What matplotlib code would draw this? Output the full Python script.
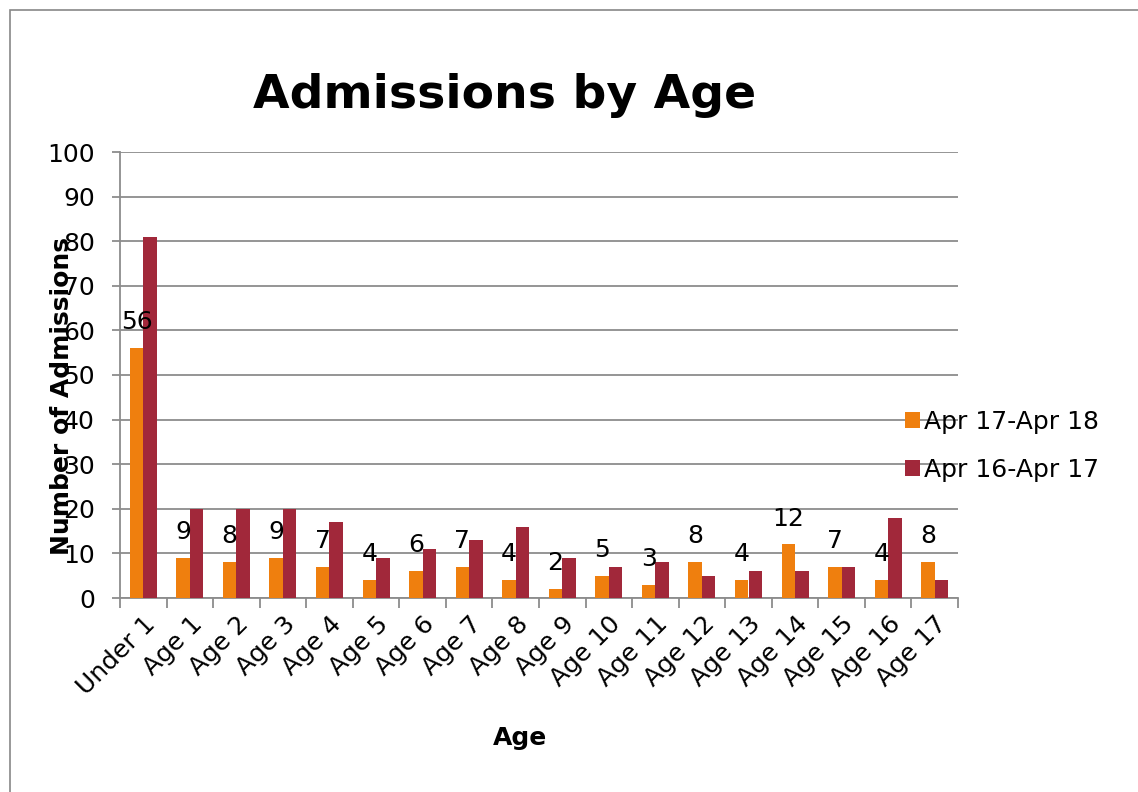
import matplotlib
matplotlib.use("Agg")
import matplotlib.pyplot as plt
import numpy as np
from matplotlib.patches import Rectangle, Patch

categories = ["Under 1", "Age 1", "Age 2", "Age 3", "Age 4", "Age 5", "Age 6", "Age 7",
              "Age 8", "Age 9", "Age 10", "Age 11", "Age 12", "Age 13", "Age 14",
              "Age 15", "Age 16", "Age 17"]
series_names = ["Apr 17-Apr 18", "Apr 16-Apr 17"]
apr17_18 = [56, 9, 8, 9, 7, 4, 6, 7, 4, 2, 5, 3, 8, 4, 12, 7, 4, 8]
apr16_17 = [81, 20, 20, 20, 17, 9, 11, 13, 16, 9, 7, 8, 5, 6, 6, 7, 18, 4]
yticks = list(range(0, 101, 10))

c_orange = "#EF7F0E"
c_red = "#A1283A"
grid_c = "#8C8C8C"

W, H = 1138, 792
fig = plt.figure(figsize=(W / 100, H / 100), dpi=100)
ax = fig.add_axes([120 / W, 1 - 598 / H, (958 - 120) / W, (598 - 152) / H])

x = np.arange(len(categories))
bw = 0.29
ax.bar(x - bw / 2, apr17_18, bw, color=c_orange, zorder=3, label=series_names[0])
ax.bar(x + bw / 2, apr16_17, bw, color=c_red, zorder=3, label=series_names[1])

for xi, v in zip(x, apr17_18):
    ax.annotate(str(v), (xi - bw / 2, v), xytext=(0, 10), textcoords="offset points",
                ha="center", va="bottom", fontsize=18, color="black", zorder=5)

ax.set_xlim(-0.5, len(categories) - 0.5)
ax.set_ylim(0, 100)
ax.set_yticks(yticks)
ax.set_yticklabels([str(t) for t in yticks], fontsize=18)
ax.yaxis.grid(True, color=grid_c, lw=1.3, zorder=0)
ax.set_axisbelow(True)

ax.set_xticks(x)
ax.set_xticklabels(categories, rotation=45, ha="right", rotation_mode="anchor", fontsize=18)
ax.set_xticks(np.arange(len(categories) + 1) - 0.5, minor=True)
ax.tick_params(axis="x", which="major", length=0, pad=10)
ax.tick_params(axis="x", which="minor", length=7, color=grid_c, width=1.3)
ax.tick_params(axis="y", length=6, color=grid_c, width=1.3, pad=12)

for s in ["top", "right"]:
    ax.spines[s].set_visible(False)
for s in ["left", "bottom"]:
    ax.spines[s].set_color(grid_c)
    ax.spines[s].set_linewidth(1.3)

fig.text(505 / W, 1 - 96 / H, "Admissions by Age", fontsize=34, fontweight="bold",
         ha="center", va="center")
fig.text(62 / W, 1 - 396 / H, "Number of Admissions", fontsize=18, fontweight="bold",
         rotation=90, ha="center", va="center")
fig.text(520 / W, 1 - 738 / H, "Age", fontsize=18, fontweight="bold",
         ha="center", va="center")

handles = [Patch(facecolor=c_orange, edgecolor="none"), Patch(facecolor=c_red, edgecolor="none")]
fig.legend(handles, series_names, loc="center left",
           bbox_to_anchor=(882 / W, 1 - 446 / H), frameon=False, fontsize=18,
           handlelength=0.6, handleheight=0.6, handletextpad=0.2, labelspacing=0.95)

fig.patches.append(Rectangle((10 / W, -0.1), 1.2, 1 - 10 / H + 0.1, transform=fig.transFigure,
                             fill=False, edgecolor="#888888", lw=1.2))

fig.savefig("out.png", dpi=100)
